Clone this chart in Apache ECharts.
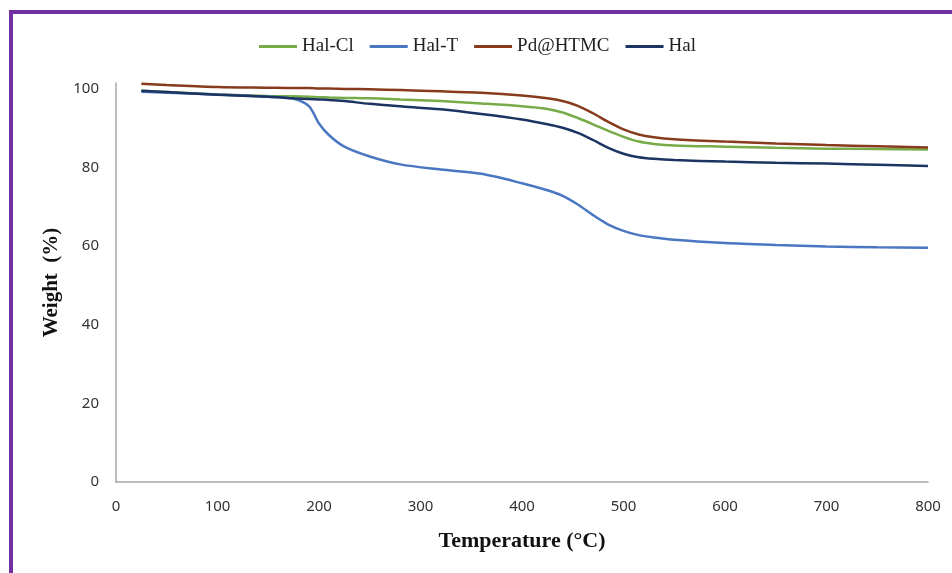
<!DOCTYPE html>
<html>
<head>
<meta charset="utf-8">
<script src="https://cdn.jsdelivr.net/npm/echarts@6/dist/echarts.min.js"></script>
<style>
  html, body { margin: 0; padding: 0; background: #fff; }
  #chart { width: 952px; height: 573px; }
</style>
</head>
<body>
<div id="chart"></div>
<script>
// TGA curves (temperature in °C, weight in %)
const temperature = [25, 50, 100, 150, 175, 190, 200, 210, 225, 250, 280, 320, 360, 400, 425, 440, 455, 470, 485, 500, 515, 530, 550, 600, 650, 700, 750, 800]
const halCl  = [99.5, 99.2, 98.6, 98.2, 98.1, 98.0, 97.9, 97.8, 97.7, 97.6, 97.3, 96.9, 96.3, 95.6, 94.9, 94.0, 92.6, 91.0, 89.3, 87.8, 86.6, 86.0, 85.6, 85.3, 85.0, 84.8, 84.7, 84.6]
const halT   = [99.3, 99.0, 98.6, 98.0, 97.5, 95.6, 91.2, 88.2, 85.3, 82.8, 80.8, 79.5, 78.4, 76.0, 74.2, 72.8, 70.6, 67.9, 65.5, 63.9, 62.8, 62.2, 61.6, 60.8, 60.3, 59.9, 59.7, 59.6]
const pdHTMC = [101.3, 101.0, 100.5, 100.3, 100.2, 100.2, 100.1, 100.1, 100.0, 99.9, 99.7, 99.4, 99.0, 98.3, 97.6, 96.9, 95.7, 93.8, 91.6, 89.7, 88.4, 87.7, 87.2, 86.6, 86.1, 85.7, 85.4, 85.1]
const hal    = [99.5, 99.2, 98.5, 98.0, 97.6, 97.4, 97.3, 97.2, 96.9, 96.2, 95.6, 94.8, 93.6, 92.2, 91.0, 90.1, 88.8, 87.0, 85.0, 83.5, 82.6, 82.2, 81.9, 81.5, 81.2, 81.0, 80.7, 80.4]

const seriesNames = ['Hal-Cl', 'Hal-T', 'Pd@HTMC', 'Hal']
const seriesValues = [halCl, halT, pdHTMC, hal]
const seriesColors = ['#77ab48', '#4a76c2', '#873a1c', '#1c3461']

const chart = echarts.init(document.getElementById('chart'))

const pairs = (vals) => temperature.map((t, i) => [t, vals[i]])

const option = {
  backgroundColor: '#fff',
  animation: false,
  graphic: [
    { type: 'rect', shape: { x: 9, y: 10, width: 943, height: 4 }, style: { fill: '#7030a0' } },
    { type: 'rect', shape: { x: 9, y: 10, width: 4, height: 563 }, style: { fill: '#7030a0' } },
  ],
  legend: {
    top: 32,
    left: 254,
    itemWidth: 38,
    itemHeight: 3,
    itemGap: 16,
    icon: 'rect',
    textStyle: { fontFamily: 'Liberation Serif', fontSize: 19, color: '#222' },
    data: seriesNames,
  },
  grid: { left: 116, right: 24, top: 83, bottom: 91 },
  xAxis: {
    type: 'value',
    min: 0,
    max: 800,
    interval: 100,
    name: 'Temperature (°C)',
    nameLocation: 'middle',
    nameGap: 48,
    nameTextStyle: { fontFamily: 'Liberation Serif', fontSize: 22, fontWeight: 'bold', color: '#111' },
    axisLine: { lineStyle: { color: '#a6a6a6', width: 1.5 } },
    axisTick: { show: false },
    splitLine: { show: false },
    axisLabel: { margin: 17, fontFamily: 'Noto Sans', fontSize: 15, color: '#333' },
  },
  yAxis: {
    type: 'value',
    min: 0,
    max: 101.5,
    interval: 20,
    name: 'Weight  (%)',
    nameLocation: 'middle',
    nameGap: 54,
    nameTextStyle: { fontFamily: 'Liberation Serif', fontSize: 21, fontWeight: 'bold', color: '#111' },
    axisLine: { show: true, lineStyle: { color: '#a6a6a6', width: 1.5 } },
    axisTick: { show: false },
    splitLine: { show: false },
    axisLabel: { margin: 17, fontFamily: 'Noto Sans', fontSize: 15, color: '#333', showMaxLabel: false },
  },
  series: seriesNames.map((name, i) => ({
    name,
    type: 'line',
    smooth: 0.3,
    symbol: 'none',
    clip: false,
    lineStyle: { color: seriesColors[i], width: 2.5 },
    itemStyle: { color: seriesColors[i] },
    data: pairs(seriesValues[i]),
  })),
}

chart.setOption(option)
</script>
</body>
</html>
